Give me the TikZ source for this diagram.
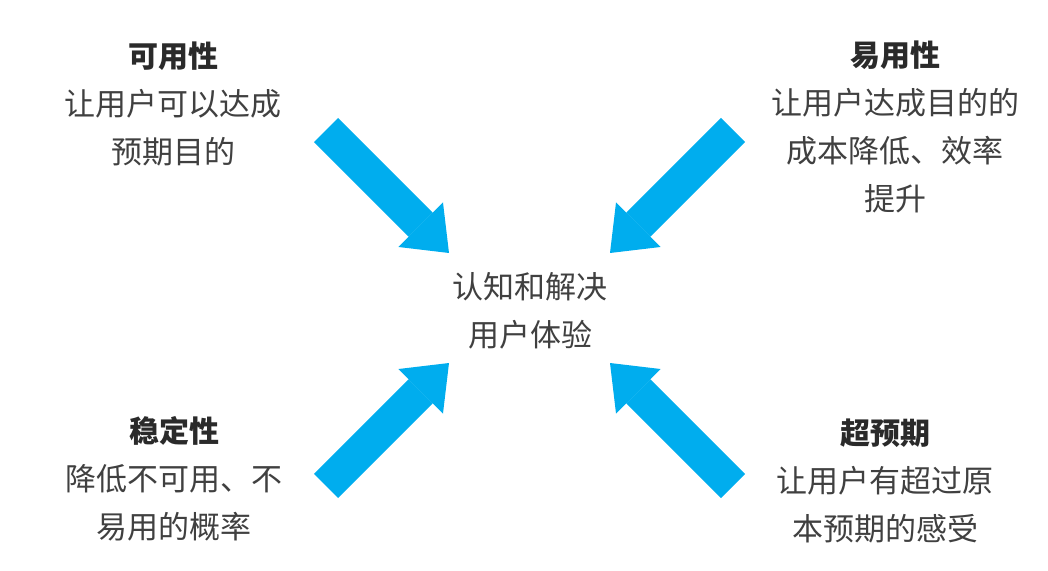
\documentclass[tikz,border=0pt]{standalone}
\usepackage{fontspec}
\usepackage{tikz}
\usetikzlibrary{arrows.meta}
\newfontfamily\cjk{Noto Sans CJK SC}
\definecolor{uxblue}{HTML}{00ADEE}
\definecolor{uxtext}{HTML}{404040}
\definecolor{uxhead}{HTML}{2A2A2A}
\newcommand{\hd}[1]{{\color{uxhead}\bfseries\fontsize{30bp}{48bp}\selectfont #1}}

\begin{document}
\begin{tikzpicture}[x=1bp,y=-1bp,
  push/.style={uxblue,line width=34bp,-{Triangle[length=40bp,width=63bp,line width=0pt]}},
  blurb/.style={text=uxtext,align=center,inner sep=0pt,font=\cjk\fontsize{31bp}{48bp}\selectfont}]

  \useasboundingbox (0,0) rectangle (1048,571);

  \node[blurb] (core) at (530,311) {认知和解决\\用户体验};

  \node[blurb] (avail) at (173,104) {\hd{可用性}\\让用户可以达成\\预期目的};
  \node[blurb] (ease) at (895,127) {\hd{易用性}\\让用户达成目的的\\成本降低、效率\\提升};
  \node[blurb] (stable) at (174,479) {\hd{稳定性}\\降低不可用、不\\易用的概率};
  \node[blurb] (beyond) at (885,481) {\hd{超预期}\\让用户有超过原\\本预期的感受};

  \coordinate (tl tail) at (326,130);
  \coordinate (tl tip) at (449,253);
  \coordinate (tr tail) at (733,130);
  \coordinate (tr tip) at (610,253);
  \coordinate (bl tail) at (326,486);
  \coordinate (bl tip) at (449,363);
  \coordinate (br tail) at (733,486);
  \coordinate (br tip) at (610,363);

  \draw[push] (tl tail) -- (tl tip);
  \draw[push] (tr tail) -- (tr tip);
  \draw[push] (bl tail) -- (bl tip);
  \draw[push] (br tail) -- (br tip);
\end{tikzpicture}
\end{document}
